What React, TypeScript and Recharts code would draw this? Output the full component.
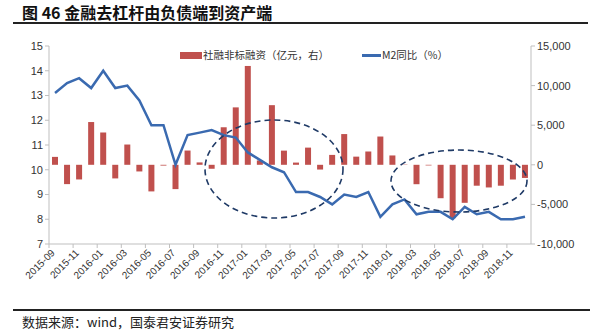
import { ComposedChart, Bar, Line, XAxis, YAxis } from 'recharts';

const months = [
  '2015-09', '2015-10', '2015-11', '2015-12', '2016-01', '2016-02', '2016-03', '2016-04',
  '2016-05', '2016-06', '2016-07', '2016-08', '2016-09', '2016-10', '2016-11', '2016-12',
  '2017-01', '2017-02', '2017-03', '2017-04', '2017-05', '2017-06', '2017-07', '2017-08',
  '2017-09', '2017-10', '2017-11', '2017-12', '2018-01', '2018-02', '2018-03', '2018-04',
  '2018-05', '2018-06', '2018-07', '2018-08', '2018-09', '2018-10', '2018-11', '2018-12',
];

// 社融非标融资（亿元）- right axis
const nonStandard = [
  1000, -2440, -1850, 5400, 4080, -1720, 2560, -840,
  -3360, -100, -3070, 1800, 300, -500, 4740, 7250,
  12480, 550, 7530, 1790, 280, 2170, -600, 1250,
  3880, 1030, 1680, 3570, 1180, 40, -2450, -80,
  -4220, -6740, -4800, -2640, -2860, -2640, -1870, -1660,
];

// M2同比（%）- left axis
const m2Yoy = [
  13.1, 13.5, 13.7, 13.3, 14.0, 13.3, 13.4, 12.8,
  11.8, 11.8, 10.2, 11.4, 11.5, 11.6, 11.4, 11.3,
  10.7, 10.4, 10.1, 9.9, 9.1, 9.1, 8.9, 8.6,
  9.0, 8.9, 9.1, 8.1, 8.6, 8.8, 8.2, 8.3,
  8.3, 8.0, 8.5, 8.2, 8.3, 8.0, 8.0, 8.1,
];

const leftTicks = [7, 8, 9, 10, 11, 12, 13, 14, 15];
const rightTicks = [-10000, -5000, 0, 5000, 10000, 15000];

const data = months.map((m, i) => ({ month: m, fin: nonStandard[i], m2: m2Yoy[i] }));

const W = 600;
const H = 335;
const LEFT_W = 49;
const RIGHT_W = 69;
const HALF_BAND = (W - LEFT_W - RIGHT_W) / months.length / 2;

const AXIS = '#BFBFBF';
const TEXT = '#333333';
const FONT = '"Liberation Sans", Arial, sans-serif';
const CJK = '"Noto Sans CJK SC", sans-serif';

const XTick = (props: any) => {
  const { x, y, payload } = props;
  const axisY = y - 8;
  return (
    <g>
      <line x1={x - HALF_BAND} x2={x - HALF_BAND} y1={axisY} y2={axisY + 4} stroke={AXIS} />
      <text
        transform={`translate(${x - 2},${y - 1}) rotate(-45)`}
        textAnchor="end"
        dy="0.35em"
        fontSize={10}
        fontFamily={FONT}
        fill={TEXT}
      >
        {payload.value}
      </text>
    </g>
  );
};

const fmt = (v: number) => v.toLocaleString('en-US');

export default function App() {
  return (
    <div style={{ position: 'absolute', left: 0, top: 0, width: W, height: H, background: '#fff' }}>
      <div style={{ position: 'absolute', left: 22, top: 1, fontFamily: CJK, fontWeight: 700, fontSize: 16, color: '#111', lineHeight: '22px', whiteSpace: 'nowrap' }}>
        图 46 金融去杠杆由负债端到资产端
      </div>
      <div style={{ position: 'absolute', left: 13, top: 22, width: 575, height: 2, background: '#222' }} />

      <ComposedChart width={W} height={H} data={data} margin={{ top: 46, right: 0, bottom: 31, left: 0 }}>
        <XAxis
          dataKey="month"
          interval={1}
          tickLine={false}
          tickSize={6}
          tickMargin={2}
          height={60}
          axisLine={{ stroke: AXIS }}
          tick={<XTick />}
        />
        <YAxis
          yAxisId="left"
          orientation="left"
          width={LEFT_W}
          domain={[7, 15]}
          ticks={leftTicks}
          tickSize={4}
          tickMargin={2}
          axisLine={{ stroke: AXIS }}
          tickLine={{ stroke: AXIS }}
          tick={{ fontSize: 11, fontFamily: FONT, fill: TEXT }}
        />
        <YAxis
          yAxisId="right"
          orientation="right"
          width={RIGHT_W}
          domain={[-10000, 15000]}
          ticks={rightTicks}
          tickFormatter={fmt}
          tickSize={4}
          tickMargin={2}
          axisLine={{ stroke: AXIS }}
          tickLine={{ stroke: AXIS }}
          tick={{ fontSize: 11, fontFamily: FONT, fill: TEXT, textAnchor: 'start' }}
        />
        <Bar yAxisId="right" dataKey="fin" fill="#C0504D" barSize={6} isAnimationActive={false} />
        <Line yAxisId="left" dataKey="m2" stroke="#3A6AB0" strokeWidth={2.5} dot={false} type="linear" isAnimationActive={false} />
      </ComposedChart>

      {/* legend */}
      <div style={{ position: 'absolute', left: 180, top: 52, width: 22, height: 7, background: '#C0504D' }} />
      <div style={{ position: 'absolute', left: 203, top: 47, fontFamily: CJK, fontSize: 10.5, color: TEXT, lineHeight: '16px', whiteSpace: 'nowrap' }}>
        社融非标融资（亿元，右）
      </div>
      <div style={{ position: 'absolute', left: 362, top: 54, width: 19, height: 2.5, background: '#3A6AB0' }} />
      <div style={{ position: 'absolute', left: 382, top: 47, fontFamily: CJK, fontSize: 10.5, color: TEXT, lineHeight: '16px', whiteSpace: 'nowrap' }}>
        M2同比（%）
      </div>

      {/* dashed ellipse annotations */}
      <svg width={W} height={H} style={{ position: 'absolute', left: 0, top: 0, pointerEvents: 'none' }}>
        <ellipse cx={274} cy={169} rx={69} ry={49} fill="none" stroke="#1F3A66" strokeWidth={1.6} strokeDasharray="6 4" />
        <ellipse cx={459} cy={181} rx={68} ry={31} fill="none" stroke="#1F3A66" strokeWidth={1.6} strokeDasharray="6 4" />
      </svg>

      <div style={{ position: 'absolute', left: 13, top: 309, width: 577, height: 2, background: '#222' }} />
      <div style={{ position: 'absolute', left: 22, top: 313, fontFamily: CJK, fontSize: 13, color: '#222', lineHeight: '18px', whiteSpace: 'nowrap' }}>
        数据来源：wind，国泰君安证券研究
      </div>
    </div>
  );
}
